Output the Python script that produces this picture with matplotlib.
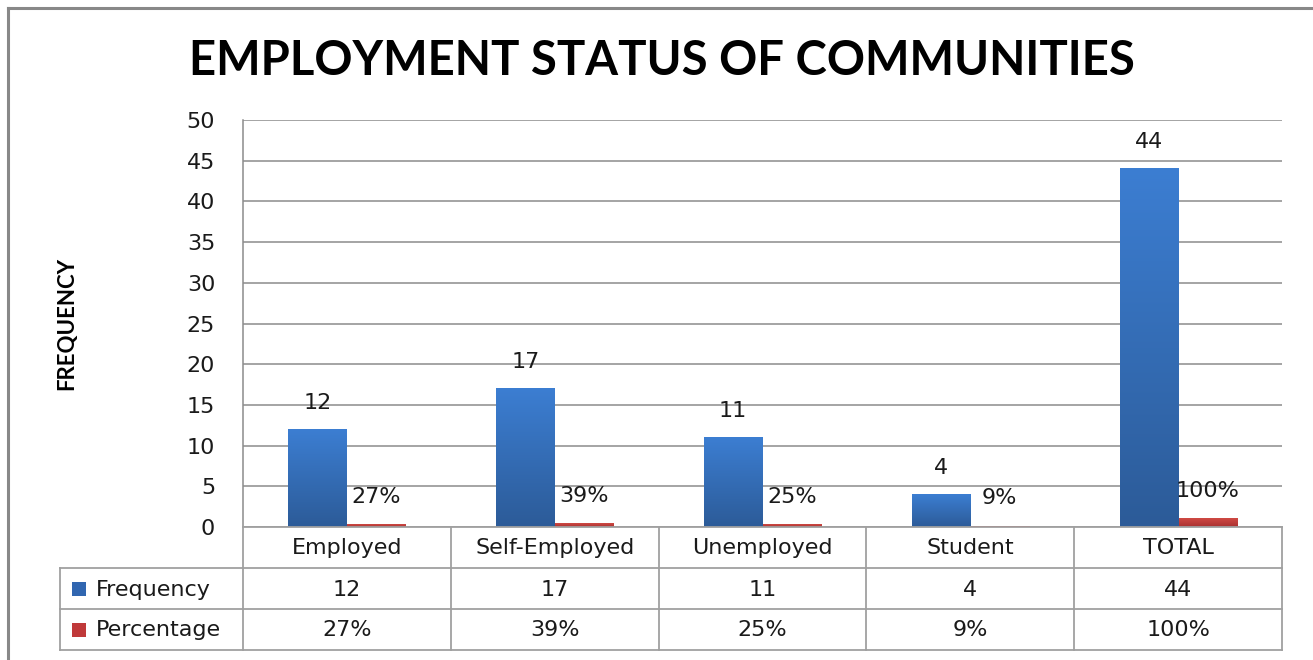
import numpy as np
import matplotlib
matplotlib.use("Agg")
import matplotlib.pyplot as plt
from matplotlib.colors import LinearSegmentedColormap
from matplotlib.patches import Rectangle

categories = ["Employed", "Self-Employed", "Unemployed", "Student", "TOTAL"]
frequency = [12, 17, 11, 4, 44]
percentage = [0.27, 0.39, 0.25, 0.09, 1.00]
freq_labels = ["12", "17", "11", "4", "44"]
pct_labels = ["27%", "39%", "25%", "9%", "100%"]
series_names = ["Frequency", "Percentage"]
yticks = list(range(0, 51, 5))

W, H = 1313, 660
plt.rcParams["font.family"] = ["DejaVu Sans"]

fig = plt.figure(figsize=(W / 100, H / 100), dpi=100)
fig.patch.set_facecolor("white")


def fx(px):
    return px / W


def fy(py):
    return 1 - py / H


ax_l, ax_r, ax_t, ax_b = 243, 1282, 120, 527
ax = fig.add_axes([fx(ax_l), fy(ax_b), fx(ax_r) - fx(ax_l), fy(ax_t) - fy(ax_b)])

blue_cmap = LinearSegmentedColormap.from_list("blue", ["#2C5B98", "#3C7ED2"])
red_cmap = LinearSegmentedColormap.from_list("red", ["#A83030", "#D04A44"])

x = np.arange(len(categories))
bw = 0.28
off = 0.142

grad = np.linspace(0, 1, 256).reshape(-1, 1)


def gradient_bars(xs, vals, cmap):
    bars = ax.bar(xs, vals, width=bw, color="none", edgecolor="none", zorder=3)
    for b in bars:
        x0, y0 = b.get_x(), b.get_y()
        w, h = b.get_width(), b.get_height()
        ax.imshow(grad, cmap=cmap, origin="lower", aspect="auto",
                  extent=[x0, x0 + w, y0, y0 + h], zorder=3, interpolation="bilinear")
    return bars


gradient_bars(x - off, frequency, blue_cmap)
gradient_bars(x + off, percentage, red_cmap)

FS = 16
label_font = dict(fontsize=FS, color="#1a1a1a")
for xi, v, t in zip(x - off, frequency, freq_labels):
    ax.annotate(t, (xi, v), xytext=(0, 19), textcoords="offset points",
                ha="center", va="center", **label_font)
for xi, v, t in zip(x + off, percentage, pct_labels):
    ax.annotate(t, (xi, v), xytext=(0, 20), textcoords="offset points",
                ha="center", va="center", **label_font)

ax.set_xlim(-0.5, len(categories) - 0.5)
ax.set_ylim(0, 50)
ax.set_yticks(yticks)
ax.set_yticklabels([str(t) for t in yticks], fontsize=FS, color="#1a1a1a")
ax.tick_params(axis="y", length=0, pad=20)
ax.set_xticks([])
ax.yaxis.grid(True, color="#8c8c8c", linewidth=1.1)
ax.set_axisbelow(True)
for s in ["top", "right", "bottom"]:
    ax.spines[s].set_visible(False)
ax.spines["left"].set_color("#8c8c8c")
ax.spines["left"].set_linewidth(1.1)

# Data table beneath the plot
line_col = "#a0a0a0"
row_y = [527, 568, 609, 650]
col_x = [ax_l + (ax_r - ax_l) * i / len(categories) for i in range(len(categories) + 1)]
legend_left = 60


def hline(y, x0, x1):
    fig.add_artist(plt.Line2D([fx(x0), fx(x1)], [fy(y), fy(y)], color=line_col, lw=1.3))


def vline(xp, y0, y1):
    fig.add_artist(plt.Line2D([fx(xp), fx(xp)], [fy(y0), fy(y1)], color=line_col, lw=1.3))


hline(row_y[0], ax_l, ax_r)
for y in row_y[1:]:
    hline(y, legend_left, ax_r)
for cx in col_x:
    vline(cx, row_y[0], row_y[-1])
vline(legend_left, row_y[1], row_y[-1])

cell_font = dict(fontsize=FS, color="#1a1a1a", ha="center", va="center")
for i, c in enumerate(categories):
    cx = (col_x[i] + col_x[i + 1]) / 2
    fig.text(fx(cx), fy((row_y[0] + row_y[1]) / 2 + 1), c, **cell_font)
    fig.text(fx(cx), fy((row_y[1] + row_y[2]) / 2 + 1), freq_labels[i], **cell_font)
    fig.text(fx(cx), fy((row_y[2] + row_y[3]) / 2 + 1), pct_labels[i], **cell_font)

key_colors = ["#3166B0", "#C0393A"]
for j, name in enumerate(series_names):
    yc = (row_y[j + 1] + row_y[j + 2]) / 2
    fig.add_artist(Rectangle((fx(72), fy(yc + 7)), fx(14), fy(0) - fy(14),
                             facecolor=key_colors[j], edgecolor="none"))
    fig.text(fx(96), fy(yc + 1), name, fontsize=FS, color="#1a1a1a",
             ha="left", va="center")

# Title and axis label
fig.text(fx(662), fy(61), "EMPLOYMENT STATUS OF COMMUNITIES", fontsize=34,
         fontweight="bold", ha="center", va="center", color="black",
         family=["Lato", "DejaVu Sans"])
fig.text(fx(67), fy(323), "FREQUENCY", fontsize=16, fontweight="bold",
         rotation=90, ha="center", va="center", color="black",
         family=["Lato", "DejaVu Sans"])

# Chart frame
fig.add_artist(plt.Line2D([fx(8), fx(8)], [fy(8), fy(H + 5)], color="#888888", lw=2.2))
fig.add_artist(plt.Line2D([fx(8), fx(W + 5)], [fy(8), fy(8)], color="#888888", lw=2.2))

fig.savefig("out.png", dpi=100, facecolor="white")
